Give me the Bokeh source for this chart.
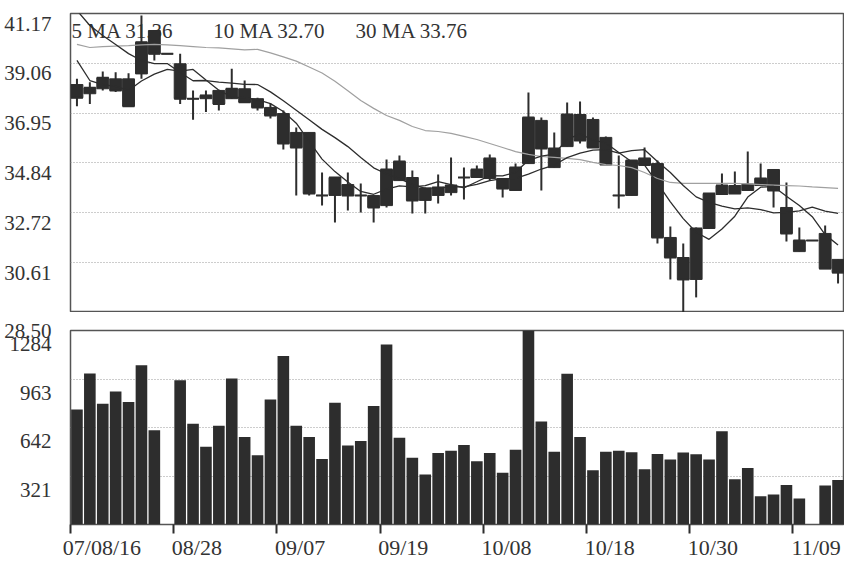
from bokeh.plotting import figure
from bokeh.layouts import column
from bokeh.models import Range1d, FixedTicker, Label, LinearAxis, PrintfTickFormatter
from bokeh.embed import file_html
from bokeh.resources import INLINE

# ---------------- data ----------------
dates = ["08/16", "08/17", "08/20", "08/21", "08/22", "08/23", "08/24", "08/27",
         "08/28", "08/29", "08/30", "08/31", "09/03", "09/04", "09/05", "09/06",
         "09/07", "09/10", "09/11", "09/12", "09/13", "09/14", "09/17", "09/18",
         "09/19", "09/20", "09/21", "09/24", "09/25", "09/26", "09/27", "09/28",
         "10/08", "10/09", "10/10", "10/11", "10/12", "10/15", "10/16", "10/17",
         "10/18", "10/19", "10/22", "10/23", "10/24", "10/25", "10/26", "10/29",
         "10/30", "10/31", "11/01", "11/02", "11/05", "11/06", "11/07", "11/08",
         "11/09", "11/12", "11/13", "11/14"]

opens = [38.16, 37.77, 37.98, 38.40, 38.40, 38.61, 40.45, 39.46, 39.04, 37.56,
         37.56, 37.91, 37.56, 37.98, 37.56, 37.19, 36.93, 36.13, 36.13, 33.46,
         33.46, 33.92, 33.46, 33.46, 33.03, 34.09, 34.22, 33.25, 33.46, 33.58,
         34.22, 34.22, 34.18, 34.18, 33.67, 34.81, 36.64, 34.64, 35.53, 36.89,
         36.68, 35.92, 33.46, 33.46, 34.73, 34.81, 31.68, 30.83, 29.90, 32.06,
         33.50, 33.88, 33.67, 33.88, 34.56, 32.95, 31.08, 31.55, 31.85, 30.75]
highs = [38.40, 38.26, 38.71, 38.68, 38.64, 41.09, 40.45, 39.46, 39.46, 37.91,
         37.91, 37.91, 38.83, 38.33, 37.60, 37.36, 37.06, 36.34, 36.13, 34.43,
         34.22, 34.43, 33.97, 33.46, 34.98, 35.15, 34.52, 33.80, 34.35, 35.07,
         34.64, 34.73, 35.20, 34.18, 34.81, 37.82, 36.76, 36.13, 37.40, 37.44,
         36.76, 35.96, 35.15, 34.94, 35.49, 34.94, 32.14, 31.42, 32.10, 33.54,
         34.39, 34.47, 35.32, 34.81, 34.56, 34.01, 32.10, 31.55, 32.19, 30.75]
lows = [37.24, 37.34, 37.91, 37.84, 37.24, 38.40, 39.18, 39.46, 37.34, 36.67,
        37.00, 37.06, 37.56, 37.41, 37.06, 36.72, 35.41, 33.46, 33.46, 33.03,
        32.31, 32.82, 32.74, 32.31, 32.95, 34.09, 32.70, 32.70, 33.12, 33.46,
        33.29, 34.22, 34.09, 33.37, 33.67, 34.81, 33.67, 34.64, 35.53, 35.66,
        35.49, 34.77, 32.91, 33.46, 34.73, 31.42, 29.90, 28.40, 29.14, 32.06,
        33.50, 33.54, 33.67, 33.88, 32.95, 31.51, 31.08, 31.55, 30.36, 29.73]
closes = [37.60, 38.02, 38.45, 37.91, 37.24, 39.95, 39.46, 39.46, 37.56, 37.56,
          37.70, 37.34, 37.98, 37.41, 37.19, 36.85, 35.66, 35.49, 33.54, 33.46,
          34.22, 33.46, 33.46, 32.95, 34.56, 34.90, 33.25, 33.75, 33.80, 33.88,
          34.22, 34.56, 35.03, 33.75, 34.64, 36.76, 35.45, 35.45, 36.89, 35.79,
          35.49, 34.77, 33.46, 34.94, 35.03, 31.68, 30.83, 29.90, 32.06, 33.54,
          33.88, 33.54, 33.92, 34.18, 33.67, 31.85, 31.55, 31.55, 30.36, 30.19]
volumes = [761, 1000, 800, 880, 811, 1054, 624, 0, 955, 667,
           514, 654, 966, 579, 458, 828, 1116, 654, 579, 434,
           805, 523, 553, 785, 1192, 574, 441, 331, 473, 488,
           527, 419, 473, 342, 495, 1400, 682, 482, 998, 579,
           359, 482, 488, 479, 366, 467, 430, 477, 465, 430,
           617, 299, 374, 187, 198, 262, 172, 0, 258, 295]

ma5 = [39.18, 38.33, 38.16, 38.08, 37.91, 38.31, 38.60, 38.80, 38.73, 38.80,
       38.35, 37.92, 37.63, 37.60, 37.52, 37.35, 37.02, 36.52, 35.75, 35.00,
       34.47, 34.03, 33.63, 33.51, 33.73, 33.87, 33.82, 33.88, 34.05, 33.92,
       33.78, 34.04, 34.30, 34.29, 34.44, 34.95, 35.13, 35.21, 35.84, 36.07,
       35.81, 35.68, 35.28, 34.89, 34.74, 33.98, 33.19, 32.48, 31.90, 31.60,
       32.04, 32.58, 33.39, 33.81, 33.84, 33.43, 33.03, 32.56, 31.80, 31.36]
ma10 = [41.30, 40.66, 40.24, 39.86, 39.47, 39.18, 39.05, 39.05, 38.67, 38.32,
        38.33, 38.26, 38.22, 38.17, 38.16, 37.85, 37.47, 37.07, 36.67, 36.26,
        35.91, 35.53, 35.07, 34.63, 34.37, 34.17, 33.93, 33.76, 33.78, 33.82,
        33.82, 33.93, 34.09, 34.17, 34.18, 34.36, 34.58, 34.75, 35.06, 35.25,
        35.38, 35.40, 35.25, 35.36, 35.40, 34.90, 34.43, 33.88, 33.40, 33.17,
        33.01, 32.89, 32.93, 32.86, 32.72, 32.74, 32.81, 32.97, 32.80, 32.70]
ma30 = [39.86, 39.73, 39.77, 39.79, 39.81, 39.84, 39.86, 39.84, 39.81, 39.77,
        39.73, 39.71, 39.67, 39.63, 39.65, 39.50, 39.33, 39.15, 38.90, 38.65,
        38.30, 37.90, 37.48, 37.15, 36.85, 36.64, 36.38, 36.21, 36.17, 36.09,
        35.96, 35.83, 35.66, 35.49, 35.32, 35.20, 35.11, 35.07, 35.03, 34.98,
        34.86, 34.77, 34.73, 34.64, 34.43, 34.18, 34.01, 33.97, 33.97, 33.97,
        33.97, 33.97, 33.95, 33.92, 33.90, 33.88, 33.86, 33.82, 33.79, 33.76]

price_ticks = [41.17, 39.06, 36.95, 34.84, 32.72, 30.61, 28.50]
volume_ticks = [1284, 963, 642, 321]
date_tick_index = [0, 8, 16, 24, 32, 40, 48, 56]
date_tick_labels = ["07/08/16", "08/28", "09/07", "09/19", "10/08", "10/18", "10/30", "11/09"]

# ---------------- style ----------------
FONT = "Liberation Serif"
INK = "#2d2d2d"
TXT = "#333333"
GRID = "#9a9a9a"
W = 844
LEFT = 70
TOP = 13
P_MIN, P_MAX = price_ticks[-1], price_ticks[0]
V_MAX = volume_ticks[0]
P_FRAME_H = 299
V_FRAME_H = 199
GAP = 18
BOTTOM = 33

n = len(dates)
xc = [i + 0.5 for i in range(n)]
x0 = [i + 0.04 for i in range(n)]
x1 = [i + 0.96 for i in range(n)]
body_top = [max(o, c) for o, c in zip(opens, closes)]
body_bot = [min(o, c) for o, c in zip(opens, closes)]

# ---------------- price panel ----------------
p = figure(width=W, height=TOP + P_FRAME_H, x_range=Range1d(0, n), y_range=Range1d(P_MIN, P_MAX),
           x_axis_location=None, y_axis_location=None, output_backend="svg",
           toolbar_location=None, min_border_left=LEFT, min_border_right=0,
           min_border_top=TOP, min_border_bottom=0)
p.background_fill_color = "white"
p.border_fill_color = "white"
p.outline_line_color = "#555555"
p.outline_line_width = 1.5
p.xgrid.visible = False
p.ygrid.ticker = FixedTicker(ticks=price_ticks[1:-1])
p.ygrid.grid_line_color = GRID
p.ygrid.grid_line_dash = "1 2"
p.ygrid.grid_line_width = 1

# shifted range so that labels sit just below their grid line
p_off = 10 * (P_MAX - P_MIN) / P_FRAME_H
p.extra_y_ranges = {"lab": Range1d(P_MIN + p_off, P_MAX + p_off)}
pax = LinearAxis(y_range_name="lab", ticker=FixedTicker(ticks=price_ticks[:-1]),
                 formatter=PrintfTickFormatter(format="%.2f"))
pax.axis_line_color = None
pax.major_tick_line_color = None
pax.minor_tick_line_color = None
pax.major_label_standoff = 13
pax.major_label_text_font = FONT
pax.major_label_text_font_size = "21px"
pax.major_label_text_color = TXT
p.add_layout(pax, "left")

for txt, xpos in [(f"5 MA {ma5[-1]:.2f}", 0.08), (f"10 MA {ma10[-1]:.2f}", 11.06),
                  (f"30 MA {ma30[-1]:.2f}", 22.09)]:
    p.add_layout(Label(x=xpos, y=P_MAX - 17 * (P_MAX - P_MIN) / P_FRAME_H, text=txt,
                       text_font=FONT, text_font_size="21px", text_color=TXT,
                       text_baseline="middle", level="underlay"))

p.segment(x0=xc, x1=xc, y0=lows, y1=highs, line_color=INK, line_width=2)
p.vbar(x=xc, width=0.92, top=body_top, bottom=body_bot, fill_color=INK, line_color=INK, line_width=1)
p.segment(x0=x0, x1=x1, y0=closes, y1=closes, line_color=INK, line_width=2)
p.line(xc, ma30, line_color="#a0a0a0", line_width=1.2)
p.line(xc, ma10, line_color=INK, line_width=1.3)
p.line(xc, ma5, line_color=INK, line_width=1.3)

# ---------------- volume panel ----------------
v = figure(width=W, height=GAP + V_FRAME_H + BOTTOM, x_range=p.x_range, y_range=Range1d(0, V_MAX),
           y_axis_location=None, output_backend="svg", toolbar_location=None,
           min_border_left=LEFT, min_border_right=0, min_border_top=GAP, min_border_bottom=BOTTOM)
v.background_fill_color = "white"
v.border_fill_color = "white"
v.outline_line_color = "#555555"
v.outline_line_width = 1.5
v.xgrid.visible = False
v.ygrid.ticker = FixedTicker(ticks=volume_ticks[1:])
v.ygrid.grid_line_color = GRID
v.ygrid.grid_line_dash = "1 2"
v.ygrid.grid_line_width = 1

vu = V_MAX / V_FRAME_H
v_off = 14 * vu
v.extra_y_ranges = {"lab": Range1d(v_off, V_MAX + v_off)}
# the lowest price label sits in the gap between the panels: put it at the top of this axis
low_pos = round(V_MAX + v_off - 0.5 * vu, 1)
vax = LinearAxis(y_range_name="lab", ticker=FixedTicker(ticks=volume_ticks + [low_pos]),
                 formatter=PrintfTickFormatter(format="%d"))
vax.major_label_overrides = {low_pos: f"{P_MIN:.2f}"}
vax.axis_line_color = None
vax.major_tick_line_color = None
vax.minor_tick_line_color = None
vax.major_label_standoff = 13
vax.major_label_text_font = FONT
vax.major_label_text_font_size = "21px"
vax.major_label_text_color = TXT
v.add_layout(vax, "left")

v.vbar(x=xc, width=0.9, top=volumes, bottom=0, fill_color=INK, line_color=None)

label_shift = [2.44 if len(s) > 5 else 1.8 for s in date_tick_labels]
label_pos = [round(i + s, 2) for i, s in zip(date_tick_index, label_shift)]
xax = v.xaxis[0]
xax.ticker = FixedTicker(ticks=label_pos, minor_ticks=date_tick_index)
xax.major_label_overrides = {pos: lab for pos, lab in zip(label_pos, date_tick_labels)}
xax.axis_line_color = None
xax.major_tick_line_color = None
xax.major_tick_out = 0
xax.major_tick_in = 0
xax.minor_tick_line_color = INK
xax.minor_tick_line_width = 2
xax.minor_tick_out = 9
xax.minor_tick_in = 0
xax.major_label_standoff = 1
xax.major_label_text_font = FONT
xax.major_label_text_font_size = "22px"
xax.major_label_text_color = TXT

layout = column(p, v, spacing=0)
open("out.html", "w").write(file_html(layout, INLINE))
